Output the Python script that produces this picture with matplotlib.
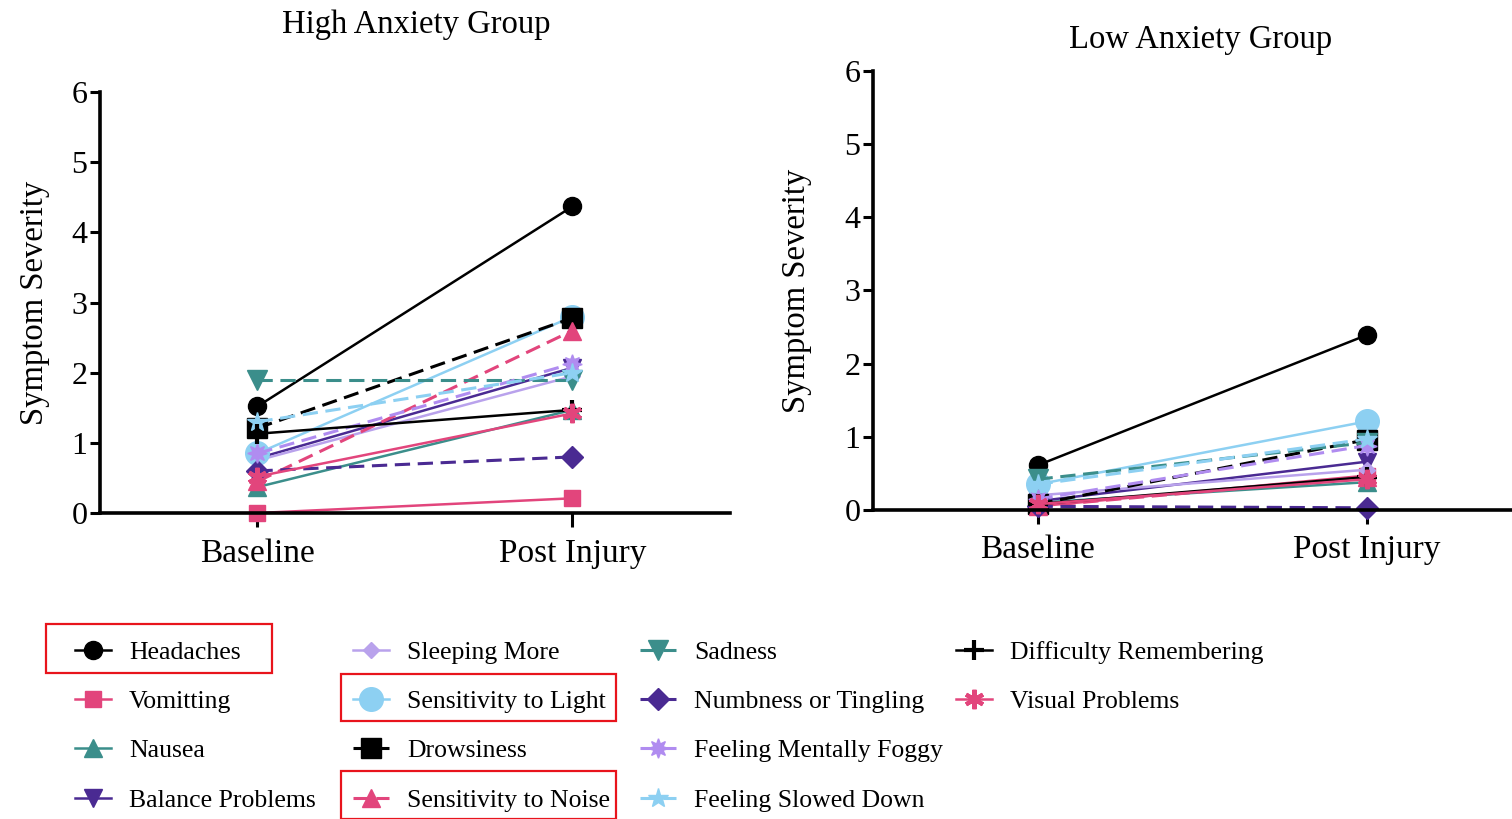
import matplotlib

matplotlib.use("Agg")
import matplotlib.pyplot as plt
from matplotlib.patches import Rectangle

plt.rcParams["font.family"] = ["Liberation Serif", "DejaVu Serif"]

# time points on the x axis
timepoints = ["Baseline", "Post Injury"]

symptoms = [
    "Headaches", "Vomitting", "Nausea", "Balance Problems",
    "Sleeping More", "Sensitivity to Light", "Drowsiness", "Sensitivity to Noise",
    "Sadness", "Numbness or Tingling", "Feeling Mentally Foggy", "Feeling Slowed Down",
    "Difficulty Remembering", "Visual Problems",
]

# mean symptom severity
high_baseline = [1.52, 0.00, 0.37, 0.78, 0.75, 0.85, 1.21, 0.45, 1.90, 0.60, 0.85, 1.30, 1.13, 0.52]
high_post = [4.37, 0.21, 1.47, 2.07, 1.95, 2.80, 2.78, 2.60, 1.90, 0.80, 2.13, 2.00, 1.47, 1.42]
low_baseline = [0.61, 0.05, 0.10, 0.12, 0.20, 0.35, 0.08, 0.05, 0.42, 0.05, 0.15, 0.35, 0.08, 0.08]
low_post = [2.39, 0.47, 0.38, 0.66, 0.55, 1.21, 0.96, 0.45, 0.92, 0.03, 0.88, 0.97, 0.45, 0.42]

# styles
BLACK = "#000000"
PINK = "#e2457c"
TEAL = "#3b8e8b"
DPURPLE = "#4a2a92"
LAVENDER = "#b9a2ec"
LBLUE = "#8dd0f2"
FOGGY = "#b08cf0"

colors = [BLACK, PINK, TEAL, DPURPLE, LAVENDER, LBLUE, BLACK, PINK,
          TEAL, DPURPLE, FOGGY, LBLUE, BLACK, PINK]
styles = ["-", "-", "-", "-", "-", "-", "--", "--",
          "--", "--", "--", "--", "-", "-"]
markers = ["o", "s", "^", "v", "D", "o", "s", "^",
           "v", "D", (8, 1, 0), "*", "+", (6, 2, 0)]
msizes = [13, 12, 13, 13, 8, 17, 15, 13, 15, 11, 14, 15, 15, 14]

fig = plt.figure(figsize=(15.12, 8.19), dpi=100)
ax_hi = fig.add_axes([0.0661, 0.3736, 0.4167, 0.514])
ax_lo = fig.add_axes([0.5774, 0.3773, 0.4352, 0.536])


def draw_group(ax, base, post):
    handles = []
    for i, name in enumerate(symptoms):
        dashed = styles[i] == "--"
        (ln,) = ax.plot(
            [0, 1], [base[i], post[i]],
            color=colors[i], linestyle=styles[i],
            linewidth=2.2 if dashed else 1.8,
            dashes=(5, 2.5) if dashed else (None, None),
            marker=markers[i], markersize=msizes[i],
            markerfacecolor=colors[i], markeredgecolor=colors[i],
            markeredgewidth=3 if markers[i] in ("+", (6, 2, 0)) else 1,
            label=name, clip_on=False,
        )
        handles.append(ln)
    ax.set_xlim(-0.5, 1.5)
    ax.set_ylim(0, 6)
    ax.set_xticks([0, 1])
    ax.set_xticklabels(timepoints, fontsize=24)
    ax.set_yticks(range(7))
    ax.tick_params(axis="y", labelsize=23, width=2.2, length=7, pad=2)
    ax.tick_params(axis="x", width=2.2, length=10, pad=8)
    for s in ("top", "right"):
        ax.spines[s].set_visible(False)
    for s in ("left", "bottom"):
        ax.spines[s].set_linewidth(2.6)
    ax.set_ylabel("Symptom Severity", fontsize=23.5)
    return handles


handles = draw_group(ax_hi, high_baseline, high_post)
draw_group(ax_lo, low_baseline, low_post)
ax_hi.yaxis.set_label_coords(-0.08, 0.5)
ax_lo.yaxis.set_label_coords(-0.092, 0.5)

fig.text(0.275, 0.97, "High Anxiety Group", fontsize=23.5, ha="center", va="center")
fig.text(0.794, 0.951, "Low Anxiety Group", fontsize=23.5, ha="center", va="center")

# legend laid out as four columns of 4, 4, 4, 2 entries
columns = [handles[0:4], handles[4:8], handles[8:12], handles[12:14]]
col_x = [75, 353, 640, 956]
for hs, x in zip(columns, col_x):
    fig.legend(
        handles=hs, labels=[h.get_label() for h in hs],
        loc="upper left", bbox_to_anchor=(x / 1512, 1 - 641 / 819),
        frameon=False, fontsize=18.5, borderpad=0, borderaxespad=0,
        handlelength=1.4, handletextpad=0.7, labelspacing=1.02,
    )

# red highlight boxes around selected legend entries
boxes = [(46, 624, 272, 673), (341, 674, 616, 721), (341, 771, 616, 819)]
for x0, y0, x1, y1 in boxes:
    fig.patches.append(Rectangle(
        (x0 / 1512, 1 - y1 / 819), (x1 - x0) / 1512, (y1 - y0) / 819,
        transform=fig.transFigure, fill=False, edgecolor="#e8141c", linewidth=1.6,
    ))

fig.savefig("out.png", dpi=100)
